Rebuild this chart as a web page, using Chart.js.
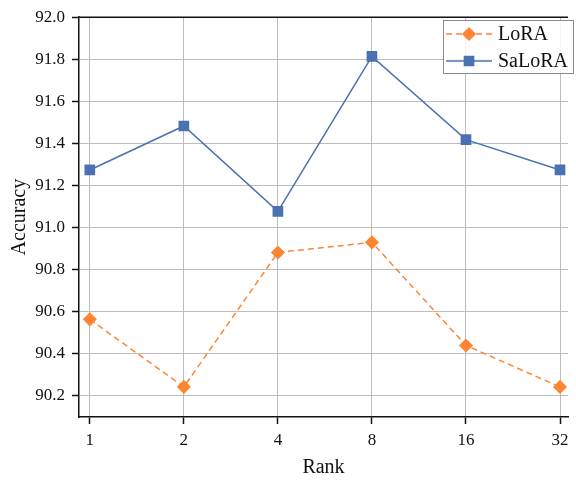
<!DOCTYPE html>
<html><head><meta charset="utf-8">
<script src="https://cdn.jsdelivr.net/npm/chart.js@4/dist/chart.umd.min.js"></script>
<style>html,body{margin:0;padding:0;background:#fff}#wrap{width:576px;height:481px}</style>
</head><body><div id="wrap"><canvas id="c" width="576" height="481"></canvas></div>
<script>
const ranks = ["1","2","4","8","16","32"];
const loraAcc = [90.564, 90.243, 90.882, 90.930, 90.440, 90.243];
const saloraAcc = [91.274, 91.483, 91.077, 91.814, 91.418, 91.274];
const yTicks = [90.2, 90.4, 90.6, 90.8, 91.0, 91.2, 91.4, 91.6, 91.8, 92.0];

const FONT = "'Liberation Serif','Times New Roman',serif";
const ORANGE = '#ff8533';
const BLUE = '#4a72b2';

const legendBox = {
  id: 'legendBox',
  afterDatasetsDraw(chart) {
    const ctx = chart.ctx;
    const x0 = 443, y0 = 20, w = 130, h = 53;
    ctx.save();
    ctx.fillStyle = 'rgba(255,255,255,0.85)';
    ctx.fillRect(x0, y0, w, h);
    ctx.strokeStyle = '#8a8a8a';
    ctx.lineWidth = 1;
    ctx.strokeRect(x0 + 0.5, y0 + 0.5, w, h);
    chart.data.datasets.forEach((ds, i) => {
      const yy = y0 + 14 + i * 27;
      ctx.strokeStyle = ds.borderColor;
      ctx.lineWidth = ds.borderWidth;
      ctx.setLineDash(ds.borderDash || []);
      ctx.beginPath(); ctx.moveTo(446, yy); ctx.lineTo(492, yy); ctx.stroke();
      ctx.setLineDash([]);
      Chart.helpers.drawPoint(ctx, {pointStyle: ds.pointStyle, radius: ds.pointRadius, borderWidth: 1}, 469, yy);
      ctx.fillStyle = ds.pointBackgroundColor;
      ctx.fill();
      ctx.fillStyle = '#111';
      ctx.font = '20px ' + FONT;
      ctx.textBaseline = 'middle';
      ctx.textAlign = 'left';
      ctx.fillText(ds.label, 498, yy + 1);
    });
    ctx.restore();
  }
};

new Chart(document.getElementById('c'), {
  type: 'line',
  data: {
    datasets: [
      { label: 'LoRA', data: loraAcc.map((v, i) => ({x: i, y: v})), borderColor: ORANGE, backgroundColor: ORANGE,
        pointBackgroundColor: ORANGE, pointBorderColor: ORANGE, borderWidth: 1.5, borderDash: [6, 4],
        pointStyle: 'rectRot', pointRadius: 6, pointHoverRadius: 6, tension: 0 },
      { label: 'SaLoRA', data: saloraAcc.map((v, i) => ({x: i, y: v})), borderColor: BLUE, backgroundColor: BLUE,
        pointBackgroundColor: BLUE, pointBorderColor: BLUE, borderWidth: 1.5,
        pointStyle: 'rect', pointRadius: 6.5, pointHoverRadius: 6.5, tension: 0 }
    ]
  },
  options: {
    responsive: false, animation: false, devicePixelRatio: 1,
    layout: { padding: { top: 16, right: 0, left: 0, bottom: 0 } },
    plugins: { legend: { display: false }, tooltip: { enabled: false } },
    scales: {
      x: {
        type: 'linear', min: -0.115, max: 5.085,
        afterBuildTicks(s) { s.ticks = ranks.map((r, i) => ({value: i})); },
        afterFit(s) { s.height = 64; },
        ticks: { callback: (v) => ranks[v], color: '#111', font: { family: FONT, size: 17 }, padding: 6, maxRotation: 0 },
        grid: { color: '#bdbdbd', lineWidth: 1, drawTicks: true, tickLength: 7, tickColor: '#111', tickWidth: 1.5 },
        border: { color: '#111', width: 1.5 },
        title: { display: true, text: 'Rank', color: '#111', font: { family: FONT, size: 20 }, padding: { top: 4, bottom: 1 } }
      },
      y: {
        min: 90.1, max: 92.0,
        afterBuildTicks(s) { s.ticks = yTicks.map(v => ({value: v})); },
        afterFit(s) { s.width = 79; },
        ticks: { callback: (v) => v.toFixed(1), color: '#111', font: { family: FONT, size: 17 }, padding: 7 },
        grid: { color: '#bdbdbd', lineWidth: 1, drawTicks: true, tickLength: 7, tickColor: '#111', tickWidth: 1.5 },
        border: { color: '#111', width: 1.5 },
        title: { display: true, text: 'Accuracy', color: '#111', font: { family: FONT, size: 20 }, padding: { top: 8, bottom: 4 } }
      }
    }
  },
  plugins: [legendBox, {
    id: 'topLine',
    afterDraw(chart) {
      const a = chart.chartArea, ctx = chart.ctx;
      ctx.save(); ctx.strokeStyle = '#111'; ctx.lineWidth = 1.5;
      ctx.beginPath(); ctx.moveTo(a.left, a.top); ctx.lineTo(a.right, a.top); ctx.stroke();
      ctx.restore();
    }
  }]
});
</script></body></html>
